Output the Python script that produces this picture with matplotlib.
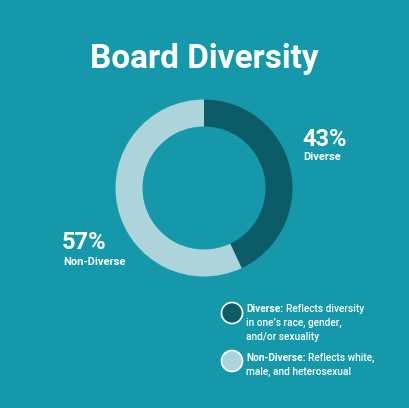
import matplotlib.pyplot as plt

labels = ["Diverse", "Non-Diverse"]
shares = [43, 57]
colors = ["#0b5c66", "#acd4da"]
legend_bold = ["Diverse:", "Non-Diverse:"]
legend_text = [["Reflects diversity", "in one\u2019s race, gender,", "and/or sexuality"],
               ["Reflects white,", "male, and heterosexual"]]

bg = "#1599aa"
W, H = 409, 408
plt.rcParams['font.family'] = ['Roboto', 'DejaVu Sans']

fig = plt.figure(figsize=(W/100, H/100), dpi=100, facecolor=bg)

# overlay axes in pixel coordinates for text
ax = fig.add_axes([0, 0, 1, 1])
ax.set_xlim(0, W)
ax.set_ylim(H, 0)
ax.axis('off')

# donut
cx, cy, r = 204, 188, 88.5
pax = fig.add_axes([(cx-r)/W, (H-cy-r)/H, 2*r/W, 2*r/H])
pax.pie(shares, colors=colors, startangle=90, counterclock=False,
        wedgeprops=dict(width=0.305, linewidth=0))
pax.set_xlim(-1, 1)
pax.set_ylim(-1, 1)
pax.set_aspect('auto')

ax.text(W/2, 68, "Board Diversity", color='white', fontsize=24,
        fontweight='bold', ha='center', va='baseline')

ax.text(302, 146, f"{shares[0]}%", color='white', fontsize=17, fontweight='bold',
        ha='left', va='baseline')
ax.text(303, 160, labels[0], color='white', fontsize=8, fontweight='bold',
        ha='left', va='baseline')
ax.text(62, 249, f"{shares[1]}%", color='white', fontsize=17, fontweight='bold',
        ha='left', va='baseline')
ax.text(63, 265, labels[1], color='white', fontsize=8, fontweight='bold',
        ha='left', va='baseline')

# legend
fig.canvas.draw()
rend = fig.canvas.get_renderer()
inv = ax.transData.inverted()
for i, (cy0, ty) in enumerate([(313, 312), (361, 361)]):
    ax.add_patch(plt.Circle((232, cy0), 10.5, facecolor=colors[i],
                            edgecolor='white', linewidth=1.2))
    t = ax.text(246, ty, legend_bold[i], color='white', fontsize=7.3,
                fontweight='bold', ha='left', va='baseline')
    bb = t.get_window_extent(renderer=rend)
    x_end = inv.transform((bb.x1, bb.y0))[0]
    ax.text(x_end + 2.5, ty, legend_text[i][0], color='white', fontsize=7.3,
            fontweight='medium', ha='left', va='baseline')
    for j, line in enumerate(legend_text[i][1:]):
        ax.text(246, ty + 14*(j+1), line, color='white', fontsize=7.3,
                fontweight='medium', ha='left', va='baseline')

fig.savefig("out.png", dpi=100, facecolor=bg)
